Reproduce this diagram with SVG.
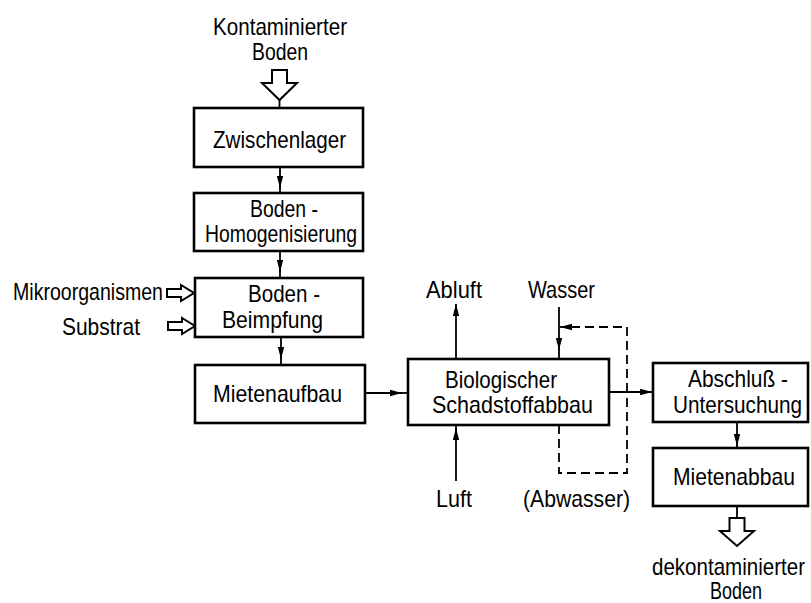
<svg xmlns="http://www.w3.org/2000/svg" width="811" height="603" viewBox="0 0 811 603">
<defs>
<style>
.box{fill:#fff;stroke:#000;stroke-width:2.6}
.ln{fill:none;stroke:#000;stroke-width:1.8}
.dash{fill:none;stroke:#000;stroke-width:1.8;stroke-dasharray:9 5}
.hollow{fill:#fff;stroke:#000;stroke-width:2;stroke-linejoin:miter}
text{font-family:"Liberation Sans","DejaVu Sans",sans-serif;font-size:24px;fill:#000}
</style>
<marker id="ah" viewBox="0 0 12 8" refX="12" refY="4" markerWidth="12" markerHeight="8" markerUnits="userSpaceOnUse" orient="auto">
<path d="M0,0.8 L12,4 L0,7.2 Z" fill="#000"/>
</marker>
</defs>
<rect width="811" height="603" fill="#fff"/>

<g id="connectors">
<polygon class="hollow" points="272,70 287,70 287,83 297,83 279.5,100 262,83 272,83"/>
<line class="ln" x1="279.5" y1="100" x2="279.5" y2="108"/>
<path class="ln" d="M280 167 V188" marker-end="url(#ah)"/>
<line class="ln" x1="280" y1="187" x2="280" y2="193"/>
<path class="ln" d="M280 251 V272" marker-end="url(#ah)"/>
<line class="ln" x1="280" y1="271" x2="280" y2="278"/>
<path class="ln" d="M281 337 V359" marker-end="url(#ah)"/>
<line class="ln" x1="281" y1="358" x2="281" y2="365"/>
<polygon class="hollow" points="167,289 181,289 181,285 194,293 181,301 181,297 167,297"/>
<polygon class="hollow" points="168,322 182,322 182,318 195,326 182,334 182,330 168,330"/>
<path class="ln" d="M365 393 H402" marker-end="url(#ah)"/>
<line class="ln" x1="401" y1="393" x2="408" y2="393"/>
<path class="ln" d="M456 359 V304" marker-end="url(#ah)"/>
<path class="ln" d="M456 481 V428" marker-end="url(#ah)"/>
<line class="ln" x1="456" y1="429" x2="456" y2="425"/>
<path class="ln" d="M559 307 V350" marker-end="url(#ah)"/>
<line class="ln" x1="559" y1="349" x2="559" y2="359"/>
<path class="dash" d="M627 392 V327 H572"/>
<path class="ln" d="M572 327 H560" marker-end="url(#ah)"/>
<path class="dash" d="M559 425 V473 H627 V392"/>
<path class="ln" d="M609 392 H652" marker-end="url(#ah)"/>
<path class="ln" d="M737 422 V446" marker-end="url(#ah)"/>
<line class="ln" x1="737" y1="445" x2="737" y2="448"/>
<line class="ln" x1="737" y1="506" x2="737" y2="518"/>
<polygon class="hollow" points="729.5,518 744.5,518 744.5,531 754,531 737,546 720,531 729.5,531"/>
</g>

<g id="input-label">
<text x="213" y="35" textLength="134" lengthAdjust="spacingAndGlyphs">Kontaminierter</text>
<text x="252" y="60" textLength="56" lengthAdjust="spacingAndGlyphs">Boden</text>
</g>

<g id="zwischenlager">
<rect class="box" x="194" y="108" width="169" height="59"/>
<text x="213" y="148" textLength="133" lengthAdjust="spacingAndGlyphs">Zwischenlager</text>
</g>

<g id="homogenisierung">
<rect class="box" x="194" y="193" width="169" height="58"/>
<text x="250" y="217" textLength="68" lengthAdjust="spacingAndGlyphs">Boden -</text>
<text x="205" y="242" textLength="152" lengthAdjust="spacingAndGlyphs">Homogenisierung</text>
</g>

<g id="beimpfung">
<rect class="box" x="195" y="278" width="168" height="59"/>
<text x="248" y="302" textLength="72" lengthAdjust="spacingAndGlyphs">Boden -</text>
<text x="222" y="328" textLength="101" lengthAdjust="spacingAndGlyphs">Beimpfung</text>
</g>

<g id="mikroorganismen">
<text x="13" y="300" textLength="150" lengthAdjust="spacingAndGlyphs">Mikroorganismen</text>
</g>
<g id="substrat">
<text x="62" y="335" textLength="78" lengthAdjust="spacingAndGlyphs">Substrat</text>
</g>

<g id="mietenaufbau">
<rect class="box" x="195" y="365" width="170" height="58"/>
<text x="213" y="402" textLength="129" lengthAdjust="spacingAndGlyphs">Mietenaufbau</text>
</g>

<g id="schadstoffabbau">
<rect class="box" x="408" y="359" width="201" height="66"/>
<text x="445" y="388" textLength="112" lengthAdjust="spacingAndGlyphs">Biologischer</text>
<text x="432" y="413" textLength="161" lengthAdjust="spacingAndGlyphs">Schadstoffabbau</text>
</g>

<g id="abluft"><text x="426" y="298" textLength="56" lengthAdjust="spacingAndGlyphs">Abluft</text></g>
<g id="wasser"><text x="528" y="298" textLength="67" lengthAdjust="spacingAndGlyphs">Wasser</text></g>
<g id="luft"><text x="436" y="507" textLength="36" lengthAdjust="spacingAndGlyphs">Luft</text></g>
<g id="abwasser"><text x="523" y="507" textLength="107" lengthAdjust="spacingAndGlyphs">(Abwasser)</text></g>

<g id="abschluss">
<rect class="box" x="653" y="363" width="155" height="59"/>
<text x="688" y="387" textLength="100" lengthAdjust="spacingAndGlyphs">Abschluß -</text>
<text x="673" y="413" textLength="129" lengthAdjust="spacingAndGlyphs">Untersuchung</text>
</g>

<g id="mietenabbau">
<rect class="box" x="653" y="448" width="155" height="58"/>
<text x="673" y="485" textLength="122" lengthAdjust="spacingAndGlyphs">Mietenabbau</text>
</g>

<g id="output-label">
<text x="652" y="575" textLength="153" lengthAdjust="spacingAndGlyphs">dekontaminierter</text>
<text x="710" y="599" textLength="52" lengthAdjust="spacingAndGlyphs">Boden</text>
</g>
</svg>
